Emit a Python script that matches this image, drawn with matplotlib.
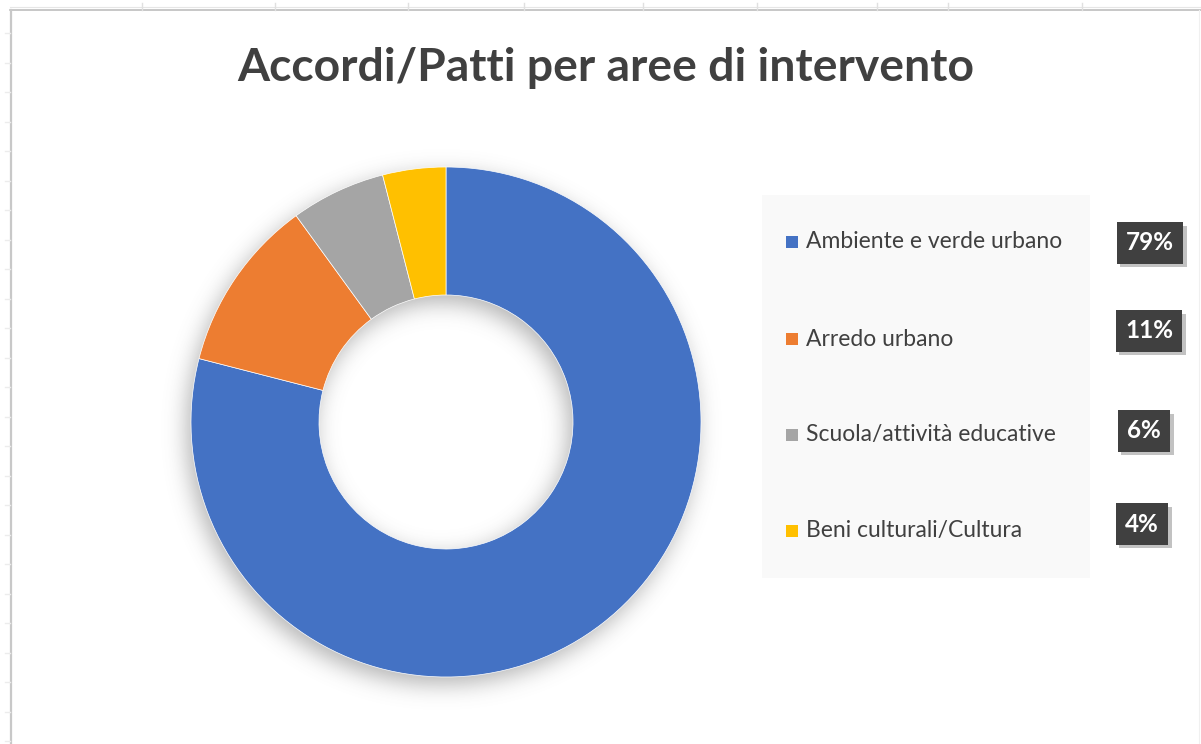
import numpy as np
import matplotlib
matplotlib.use("Agg")
import matplotlib.pyplot as plt
import matplotlib.patheffects as pe
from matplotlib.patches import Rectangle

# intervention areas and their share of agreements
categories = ["Ambiente e verde urbano", "Arredo urbano",
              "Scuola/attività educative", "Beni culturali/Cultura"]
shares = [79, 11, 6, 4]
colors = ["#4472C4", "#ED7D31", "#A5A5A5", "#FFC000"]
title = "Accordi/Patti per aree di intervento"

W, H = 1201, 744
plt.rcParams["font.family"] = ["Lato", "DejaVu Sans"]

fig = plt.figure(figsize=(W / 100, H / 100), dpi=100)
ax = fig.add_axes([0, 0, 1, 1])

def py(y):
    # pixel row (from top) -> data y
    return H - y

# spreadsheet frame / gridlines
ax.plot([10, W], [py(10), py(10)], color="#bdbdbd", lw=1.2, zorder=1)
ax.plot([10, W], [py(7), py(7)], color="#e6e6e6", lw=0.8, zorder=1)
ax.plot([10.5, 10.5], [0, py(10)], color="#c8c8c8", lw=1.6, zorder=1)
ax.plot([1199, 1199], [0, py(10)], color="#f0f0f0", lw=0.8, zorder=1)
for x in [142, 275, 408, 524, 643, 757, 877, 948, 1082]:
    ax.plot([x, x], [py(3), py(10)], color="#e0e0e0", lw=1, zorder=1)
for y in np.arange(33, 744, 29.5):
    ax.plot([5, 10], [py(y), py(y)], color="#ececec", lw=1, zorder=1)

# donut geometry
cx, cy, r_out, r_in = 446, 422, 255, 127

# soft drop shadow under the ring
yy, xx = np.mgrid[0:H, 0:W]
dist = np.hypot(xx - (cx - 5), yy - (cy + 7))
ring = ((dist <= r_out) & (dist >= r_in)).astype(float)
sig = 11.0
k = np.arange(-36, 37)
kern = np.exp(-k ** 2 / (2 * sig ** 2))
kern /= kern.sum()
blur = np.apply_along_axis(lambda m: np.convolve(m, kern, mode="same"), 0, ring)
blur = np.apply_along_axis(lambda m: np.convolve(m, kern, mode="same"), 1, blur)
shadow = np.zeros((H, W, 4))
shadow[..., :3] = 0.35
shadow[..., 3] = blur * 0.45
ax.imshow(shadow, extent=[0, W, 0, H], origin="upper", zorder=2,
          interpolation="bilinear")

wedges, _ = ax.pie(shares, colors=colors, startangle=90, counterclock=False,
                   radius=r_out, center=(cx, py(cy)), frame=True,
                   wedgeprops=dict(width=r_out - r_in, edgecolor="white",
                                   linewidth=0.5, zorder=3))

# title
ax.text(606, py(68), title, ha="center", va="center", fontsize=33.3,
        fontweight="bold", color="#404040", zorder=5)

# legend panel
ax.add_patch(Rectangle((762, py(578)), 328, 383, facecolor="#f9f9f9",
                       edgecolor="none", zorder=2))
legend_rows = [242, 339, 435, 531]
for name, col, yr in zip(categories, colors, legend_rows):
    ax.add_patch(Rectangle((786, py(yr) - 6), 12, 12, facecolor=col,
                           edgecolor="none", zorder=4))
    ax.text(806, py(yr), name, ha="left", va="center", fontsize=16.5,
            color="#404040", zorder=5)

# value badges
badge_pos = [(1150, 243), (1149, 331), (1144, 431), (1142, 524)]
for v, (bx, by) in zip(shares, badge_pos):
    t = ax.text(bx, py(by), f"{v}%", ha="center", va="center", fontsize=17.5,
                fontweight="bold", color="white", zorder=6,
                bbox=dict(boxstyle="square,pad=0.38", facecolor="#404040",
                          edgecolor="none"))
    t.get_bbox_patch().set_path_effects(
        [pe.SimplePatchShadow(offset=(2.5, -2.5), shadow_rgbFace="#9a9a9a",
                              alpha=0.6), pe.Normal()])

ax.set_xlim(0, W)
ax.set_ylim(0, H)
ax.set_aspect("auto")
ax.axis("off")

fig.savefig("out.png", dpi=100, facecolor="white")
